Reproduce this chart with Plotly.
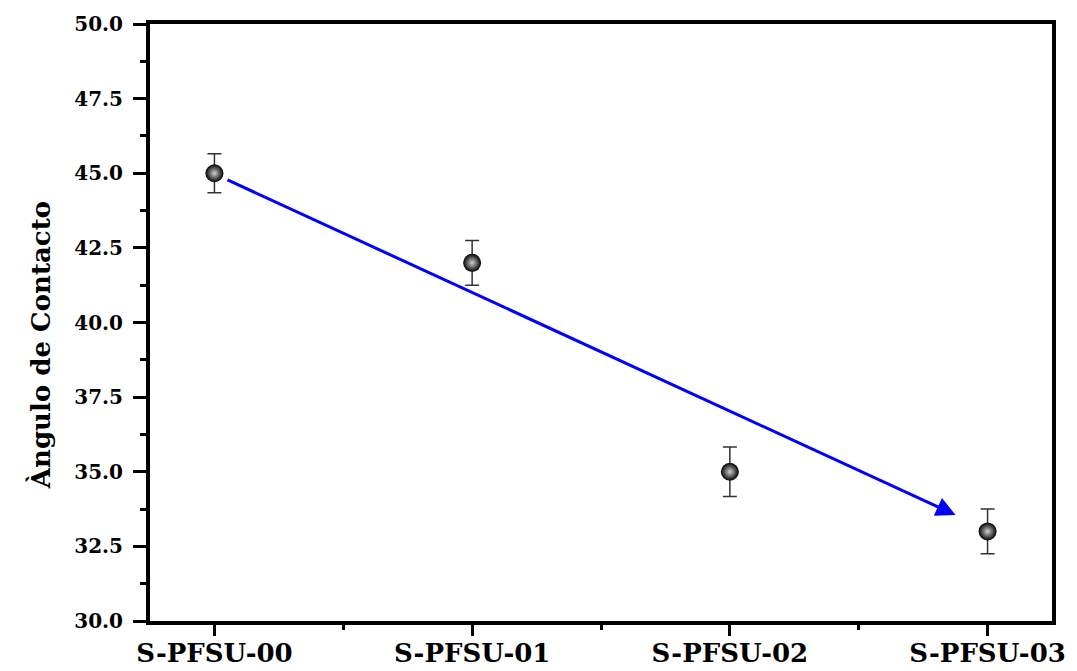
import plotly.graph_objects as go

categories = ["S-PFSU-00", "S-PFSU-01", "S-PFSU-02", "S-PFSU-03"]
contact_angle = [45.0, 42.0, 35.0, 33.0]
angle_error = [0.65, 0.75, 0.83, 0.75]
y_tick_values = [30.0, 32.5, 35.0, 37.5, 40.0, 42.5, 45.0, 47.5, 50.0]
y_tick_labels = ["30.0", "32.5", "35.0", "37.5", "40.0", "42.5", "45.0", "47.5", "50.0"]
y_title = "Àngulo de Contacto"
# trend arrow (data coordinates: category index, angle)
arrow_start = [0.045, 44.8]
arrow_end = [2.876, 33.55]

x_pos = list(range(len(categories)))
FONT = "DejaVu Serif"

fig = go.Figure()
fig.add_trace(go.Scatter(
    x=x_pos, y=contact_angle, mode="markers",
    error_y=dict(type="data", array=angle_error, visible=True,
                 color="#333333", thickness=1.5, width=7),
    marker=dict(size=18, color="#000000",
                gradient=dict(type="radial", color="#d0d0d0"),
                line=dict(width=0)),
    showlegend=False,
))

fig.add_annotation(
    x=arrow_end[0], y=arrow_end[1], ax=arrow_start[0], ay=arrow_start[1],
    xref="x", yref="y", axref="x", ayref="y",
    showarrow=True, arrowhead=2, arrowsize=1.3, arrowwidth=3,
    arrowcolor="#0000ff", text="",
)

fig.add_annotation(
    text=y_title, textangle=-90, showarrow=False,
    xref="paper", yref="paper", x=-0.122, y=0.462,
    xanchor="center", yanchor="middle",
    font=dict(family=FONT, size=26, color="black", weight="bold"),
)

fig.update_layout(
    width=1077, height=671,
    margin=dict(l=150, r=25, t=24, b=50),
    paper_bgcolor="white", plot_bgcolor="white",
    font=dict(family=FONT, color="black"),
)

fig.update_xaxes(
    range=[-0.25, 3.25], tickmode="array", tickvals=x_pos, ticktext=categories,
    showgrid=False, zeroline=False, automargin=False,
    showline=True, linewidth=4, linecolor="black", mirror=True,
    ticks="outside", ticklen=11, tickwidth=3, tickcolor="black",
    ticklabelstandoff=-5,
    tickfont=dict(family=FONT, size=26, color="black", weight="bold"),
    minor=dict(tickvals=[0.5, 1.5, 2.5], ticks="outside", ticklen=5,
               tickwidth=3, tickcolor="black", showgrid=False),
)

fig.update_yaxes(
    range=[30, 50], tickmode="array", tickvals=y_tick_values, ticktext=y_tick_labels,
    showgrid=False, zeroline=False, automargin=False,
    showline=True, linewidth=4, linecolor="black", mirror=True,
    ticks="outside", ticklen=13, tickwidth=3, tickcolor="black",
    ticklabelstandoff=6,
    tickfont=dict(family=FONT, size=20, color="black", weight="bold"),
    minor=dict(dtick=1.25, tick0=30, ticks="outside", ticklen=6,
               tickwidth=3, tickcolor="black", showgrid=False),
)

fig.write_html("out.html")
